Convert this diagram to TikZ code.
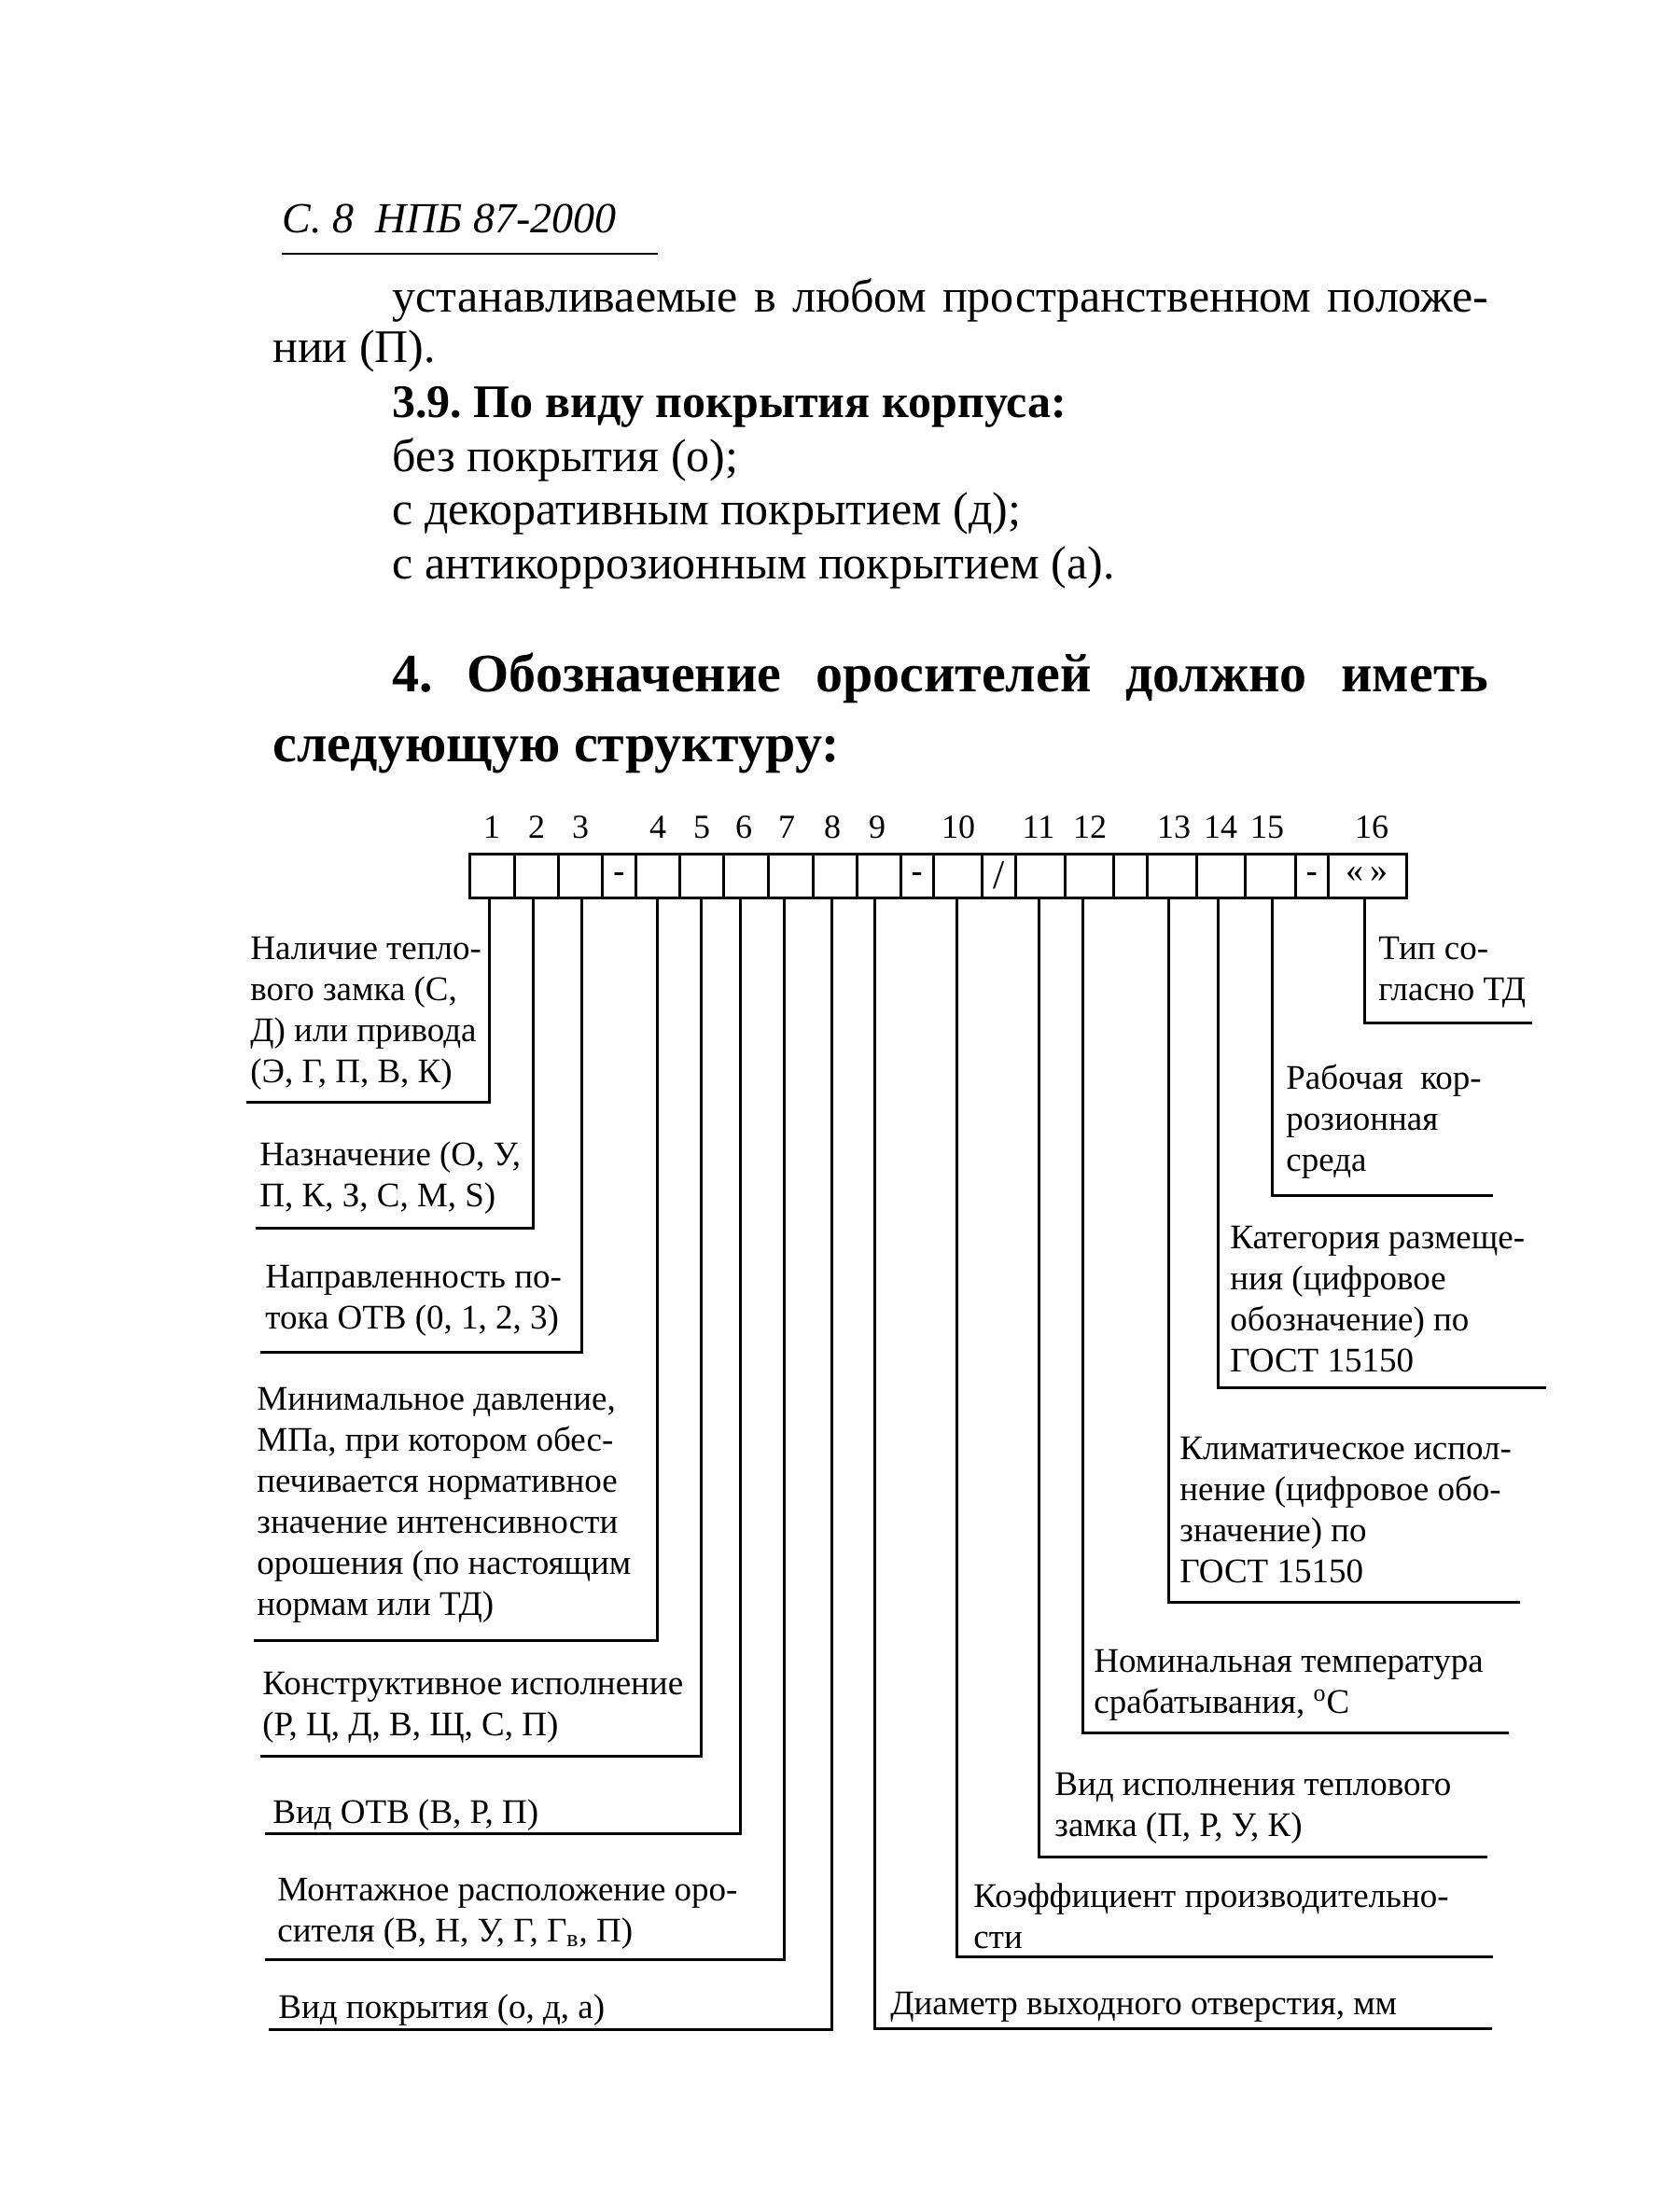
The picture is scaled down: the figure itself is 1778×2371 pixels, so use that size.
\documentclass[tikz,border=0pt]{standalone}
\usepackage{fontspec}
\setmainfont{Liberation Serif}
\frenchspacing
\newcommand{\lbl}[1]{\begin{tabular}[t]{@{}l@{}}#1\end{tabular}}
\begin{document}
\begin{tikzpicture}[x=0.5pt,y=-0.5pt,
  lab/.style={anchor=base west, inner sep=0pt, font=\fontsize{18.5}{22}\selectfont},
  num/.style={anchor=base, inner sep=0pt, font=\fontsize{18}{20}\selectfont},
  conn/.style={line width=1.5pt, line cap=rect, line join=miter},
  boxline/.style={line width=1.5pt},
  body/.style={anchor=base west, inner sep=0pt, font=\fontsize{25}{28}\selectfont},
  bodyb/.style={anchor=base west, inner sep=0pt, font=\fontsize{25}{28}\selectfont\bfseries},
  head/.style={anchor=base west, inner sep=0pt, font=\fontsize{29}{34}\selectfont\bfseries},
  cellmark/.style={inner sep=0pt, font=\fontsize{18}{20}\selectfont\bfseries},
]
\useasboundingbox (0,0) rectangle (1778,2371);
\fill[white] (0,0) rectangle (1778,2371);

% header
\node[anchor=base west, inner sep=0pt, font=\fontsize{23}{26}\selectfont\itshape] (hdr) at (302,249) {С.~8~~НПБ 87-2000};
\draw[line width=1pt] (302,272) -- (705,272);

% body text
\node[body] (b1) at (420,334) {\makebox[587.5pt][s]{устанавливаемые в любом пространственном положе-}};
\node[body] (b2) at (292,388) {нии (П).};
\node[bodyb] (b3) at (420,447) {3.9. По виду покрытия корпуса:};
\node[body] (b4) at (420,505) {без покрытия (о);};
\node[body] (b5) at (420,562) {с декоративным покрытием (д);};
\node[body] (b6) at (420,620) {с антикоррозионным покрытием (а).};

% heading
\node[head] (h1) at (420,741) {\makebox[587.5pt][s]{4. Обозначение оросителей должно иметь}};
\node[head] (h2) at (292,816) {следующую структуру:};

% box
\draw[boxline] (503,915) rectangle (1507,962);
\foreach \x in {551.7,598.3,645,681.7,728.3,775,823.3,871,918.3,965,1000,1052.7,1088.3,1141.7,1193.3,1229.3,1282.7,1334.3,1388.3,1423.3}
  \draw[boxline] (\x,915) -- (\x,962);
\node[cellmark] (d1) at (663.3,940) {-};
\node[cellmark] (d2) at (982.5,940) {-};
\node[cellmark, font=\fontsize{22}{24}\selectfont] (sl) at (1070.5,938) {/};
\node[cellmark] (d3) at (1405.8,940) {-};
\node[cellmark, font=\fontsize{19}{21}\selectfont] (q) at (1465,938) {«\,»};

% numbers
\node[num] (n1) at (527,898) {1};
\node[num] (n2) at (575,898) {2};
\node[num] (n3) at (622,898) {3};
\node[num] (n4) at (705,898) {4};
\node[num] (n5) at (752,898) {5};
\node[num] (n6) at (797,898) {6};
\node[num] (n7) at (843,898) {7};
\node[num] (n8) at (892,898) {8};
\node[num] (n9) at (940,898) {9};
\node[num] (n10) at (1027,898) {10};
\node[num] (n11) at (1113,898) {11};
\node[num] (n12) at (1168,898) {12};
\node[num] (n13) at (1258,898) {13};
\node[num] (n14) at (1308,898) {14};
\node[num] (n15) at (1358,898) {15};
\node[num] (n16) at (1470,898) {16};

% connector start points (cell bottoms)
\coordinate (c1) at (524,962);
\coordinate (c2) at (571,962);
\coordinate (c3) at (623,962);
\coordinate (c4) at (704,962);
\coordinate (c5) at (751.5,962);
\coordinate (c6) at (793,962);
\coordinate (c7) at (840,962);
\coordinate (c8) at (891,962);
\coordinate (c9) at (937.5,962);
\coordinate (c10) at (1025,962);
\coordinate (c11) at (1113,962);
\coordinate (c12) at (1160,962);
\coordinate (c13) at (1252,962);
\coordinate (c14) at (1305,962);
\coordinate (c15) at (1363,962);
\coordinate (c16) at (1462,962);

% connector free ends
\coordinate (e1) at (265,1181);
\coordinate (e2) at (275,1316);
\coordinate (e3) at (280,1449);
\coordinate (e4) at (273,1758);
\coordinate (e5) at (280,1882.5);
\coordinate (e6) at (285,1965);
\coordinate (e7) at (285,2100);
\coordinate (e8) at (289,2175);
\coordinate (e9) at (1597,2174);
\coordinate (e10) at (1598,2097);
\coordinate (e11) at (1592,1990);
\coordinate (e12) at (1615,1857);
\coordinate (e13) at (1627,1717);
\coordinate (e14) at (1655,1487);
\coordinate (e15) at (1598,1281.5);
\coordinate (e16) at (1640,1096);

\foreach \i in {1,...,16} \draw[conn] (c\i) |- (e\i);

% left labels
\node[lab] (l1) at (268,1028) {\lbl{Наличие тепло-\\вого замка (С,\\Д) или привода\\(Э, Г, П, В, К)}};
\node[lab] (l2) at (278,1249) {\lbl{Назначение (О, У,\\П, К, З, С, М, S)}};
\node[lab] (l3) at (284,1380) {\lbl{Направленность по-\\тока ОТВ (0, 1, 2, 3)}};
\node[lab] (l4) at (275,1511) {\lbl{Минимальное давление,\\МПа, при котором обес-\\печивается нормативное\\значение интенсивности\\орошения (по настоящим\\нормам или ТД)}};
\node[lab] (l5) at (281,1816) {\lbl{Конструктивное исполнение\\(Р, Ц, Д, В, Щ, С, П)}};
\node[lab] (l6) at (292,1954) {\lbl{Вид ОТВ (В, Р, П)}};
\node[lab] (l7) at (297,2037) {\lbl{Монтажное расположение оро-\\сителя (В, Н, У, Г, Г\textsubscript{в}, П)}};
\node[lab] (l8) at (298,2163) {\lbl{Вид покрытия (о, д, а)}};

% right labels
\node[lab] (l9) at (954,2159) {\lbl{Диаметр выходного отверстия, мм}};
\node[lab] (l10) at (1043,2044) {\lbl{Коэффициент производительно-\\сти}};
\node[lab] (l11) at (1130,1924) {\lbl{Вид исполнения теплового\\замка (П, Р, У, К)}};
\node[lab] (l12) at (1172,1792) {\lbl{Номинальная температура\\срабатывания, \textsuperscript{o}С}};
\node[lab] (l13) at (1264,1564) {\lbl{Климатическое испол-\\нение (цифровое обо-\\значение) по\\ГОСТ 15150}};
\node[lab] (l14) at (1318,1338) {\lbl{Категория размеще-\\ния (цифровое\\обозначение) по\\ГОСТ 15150}};
\node[lab] (l15) at (1378,1167) {\lbl{Рабочая\ \ кор-\\розионная\\среда}};
\node[lab] (l16) at (1477,1028) {\lbl{Тип со-\\гласно ТД}};
\end{tikzpicture}
\end{document}
